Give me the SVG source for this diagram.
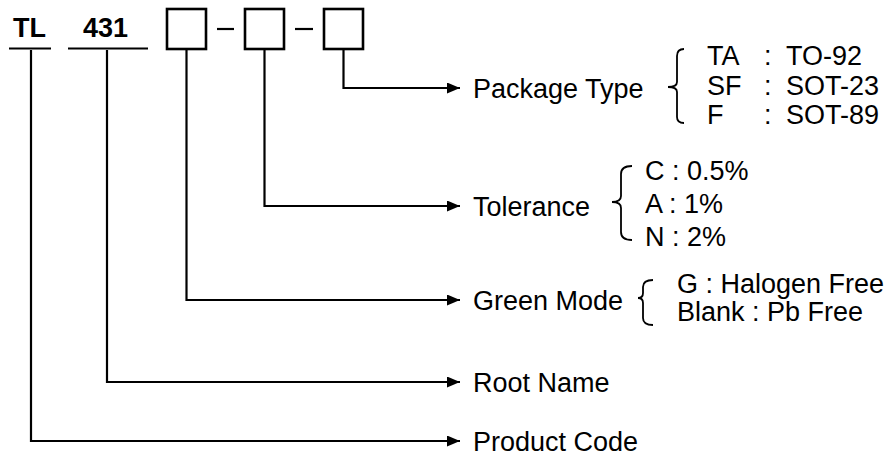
<svg xmlns="http://www.w3.org/2000/svg" width="893" height="457" viewBox="0 0 893 457">
<defs>
<marker id="arr" markerUnits="userSpaceOnUse" markerWidth="14" markerHeight="12" refX="13" refY="5.5" orient="auto">
<path d="M0,0 L13,5.5 L0,11 z" fill="#000"/>
</marker>
<style>
.t{font-family:"Liberation Sans",Arial,sans-serif;font-size:27px;fill:#000}
.b{font-weight:bold}
.ln{stroke:#000;stroke-width:2.2;fill:none}
.bx{stroke:#000;stroke-width:2.6;fill:#fff}
.br{stroke:#000;stroke-width:1.8;fill:none}
</style>
</defs>
<rect width="893" height="457" fill="#fff"/>
<g id="code">
<g id="tl"><text class="t b" x="13" y="37">TL</text><line class="ln" x1="9" y1="48.5" x2="51" y2="48.5" stroke-width="2.6"/></g>
<g id="n431"><text class="t b" x="83" y="37">431</text><line class="ln" x1="68" y1="48.5" x2="148" y2="48.5" stroke-width="2.6"/></g>
<g id="box1"><rect class="bx" x="167" y="9" width="39" height="40"/></g>
<line class="ln" x1="217" y1="29" x2="234" y2="29"/>
<g id="box2"><rect class="bx" x="245" y="9" width="39" height="40"/></g>
<line class="ln" x1="295" y1="29" x2="313" y2="29"/>
<g id="box3"><rect class="bx" x="324" y="9" width="39" height="40"/></g>
</g>
<g id="connectors">
<polyline class="ln" points="343.5,50 343.5,88 460,88" marker-end="url(#arr)"/>
<polyline class="ln" points="264.5,50 264.5,206 460,206" marker-end="url(#arr)"/>
<polyline class="ln" points="186.5,50 186.5,300 460,300" marker-end="url(#arr)"/>
<polyline class="ln" points="107,50 107,382 460,382" marker-end="url(#arr)"/>
<polyline class="ln" points="31,50 31,441 460,441" marker-end="url(#arr)"/>
</g>
<g id="package">
<text class="t" x="473" y="97.5">Package Type</text>
<path class="br" d="M684,49 Q677,49 677,56 L677,82 Q677,87 668,87 Q677,87 677,92 L677,117 Q677,123 684,123"/>
<text class="t" x="707" y="65">TA</text><text class="t" x="764" y="65">:</text><text class="t" x="786" y="65">TO-92</text>
<text class="t" x="707" y="95">SF</text><text class="t" x="764" y="95">:</text><text class="t" x="786" y="95">SOT-23</text>
<text class="t" x="707" y="124">F</text><text class="t" x="764" y="124">:</text><text class="t" x="786" y="124">SOT-89</text>
</g>
<g id="tolerance">
<text class="t" x="473" y="215.5">Tolerance</text>
<path class="br" d="M632,166 Q621,166 621,174 L621,196 Q621,202 612,202 Q621,202 621,208 L621,232 Q621,240 632,240"/>
<text class="t" x="645" y="180">C : 0.5%</text>
<text class="t" x="645" y="213">A : 1%</text>
<text class="t" x="645" y="246">N : 2%</text>
</g>
<g id="green">
<text class="t" x="473" y="310">Green Mode</text>
<path class="br" d="M653,280 Q643,280 643,287 L643,293 Q643,298 638,298 Q643,298 643,303 L643,318 Q643,325 653,325"/>
<text class="t" x="677" y="293">G : Halogen Free</text>
<text class="t" x="677" y="321">Blank : Pb Free</text>
</g>
<g id="root"><text class="t" x="473" y="392">Root Name</text></g>
<g id="product"><text class="t" x="473" y="451">Product Code</text></g>
</svg>
